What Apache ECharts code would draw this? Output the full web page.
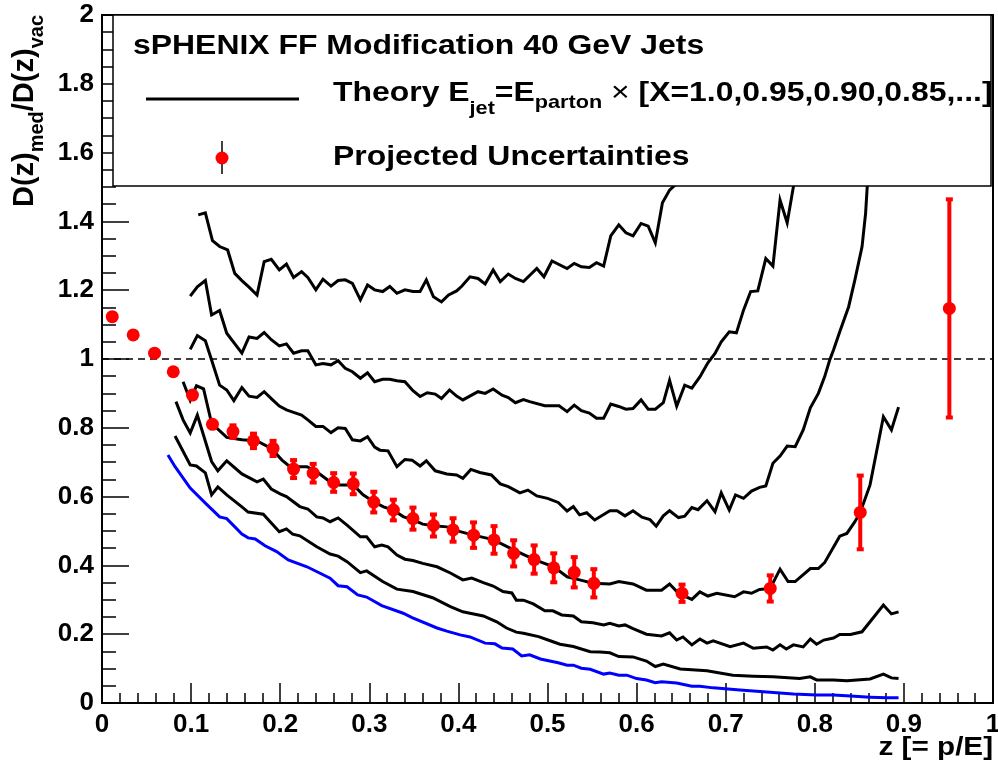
<!DOCTYPE html>
<html><head><meta charset="utf-8">
<script src="https://cdn.jsdelivr.net/npm/echarts@6/dist/echarts.min.js"></script>
<style>html,body{margin:0;padding:0;background:#fff}#c{width:998px;height:778px}</style>
</head><body><div id="c"></div>
<script>
// ---------------- data ----------------
const curveBlue = [[.074,.721],[.082,.687],[.099,.625],[.116,.581],[.132,.541],[.14,.536],[.157,.491],[.164,.48],[.172,.477],[.183,.457],[.196,.44],[.209,.416],[.23,.396],[.256,.363],[.265,.341],[.275,.338],[.287,.314],[.297,.308],[.314,.283],[.338,.261],[.348,.248],[.376,.218],[.387,.209],[.402,.198],[.413,.192],[.43,.174],[.441,.172],[.449,.16],[.461,.157],[.471,.137],[.48,.14],[.492,.128],[.512,.117],[.522,.11],[.529,.11],[.538,.101],[.548,.098],[.563,.084],[.57,.087],[.58,.081],[.589,.081],[.6,.071],[.611,.067],[.621,.059],[.628,.062],[.645,.058],[.662,.049],[.671,.049],[.686,.044],[.716,.038],[.746,.032],[.776,.026],[.802,.023],[.821,.023],[.84,.02],[.862,.017],[.881,.015],[.894,.015]];
const curve1 = [[.082,.776],[.099,.692],[.106,.689],[.116,.669],[.123,.605],[.13,.628],[.14,.605],[.157,.57],[.164,.555],[.181,.549],[.19,.523],[.199,.498],[.207,.506],[.214,.491],[.222,.486],[.241,.454],[.256,.433],[.265,.427],[.275,.411],[.29,.379],[.297,.384],[.315,.353],[.331,.331],[.349,.324],[.371,.306],[.391,.28],[.405,.265],[.413,.261],[.428,.253],[.443,.236],[.454,.218],[.465,.206],[.473,.203],[.49,.193],[.503,.181],[.514,.171],[.529,.164],[.548,.149],[.559,.148],[.57,.146],[.58,.135],[.596,.134],[.611,.122],[.621,.106],[.63,.113],[.649,.099],[.679,.094],[.708,.081],[.731,.078],[.753,.076],[.783,.071],[.795,.076],[.802,.067],[.821,.067],[.836,.065],[.862,.07],[.877,.084],[.886,.073],[.894,.071]];
const curve2 = [[.083,.876],[.091,.823],[.099,.785],[.107,.837],[.123,.702],[.13,.675],[.14,.704],[.157,.666],[.174,.643],[.181,.651],[.19,.622],[.2,.608],[.207,.6],[.222,.571],[.231,.564],[.241,.541],[.248,.538],[.256,.527],[.265,.538],[.275,.517],[.29,.483],[.297,.483],[.306,.454],[.314,.459],[.321,.454],[.331,.43],[.34,.418],[.349,.414],[.36,.406],[.376,.396],[.391,.378],[.405,.358],[.415,.363],[.428,.35],[.439,.34],[.45,.324],[.46,.32],[.465,.299],[.473,.299],[.484,.288],[.497,.268],[.506,.268],[.516,.256],[.529,.253],[.538,.236],[.551,.233],[.563,.227],[.57,.232],[.58,.224],[.587,.227],[.596,.216],[.611,.2],[.628,.195],[.637,.204],[.645,.183],[.652,.192],[.662,.169],[.671,.186],[.679,.174],[.686,.181],[.705,.164],[.72,.174],[.731,.159],[.746,.163],[.753,.154],[.761,.169],[.768,.157],[.776,.169],[.787,.163],[.795,.186],[.802,.171],[.81,.183],[.821,.189],[.828,.199],[.84,.199],[.853,.207],[.877,.285],[.886,.259],[.894,.265]];
const curve3 = [[.091,.934],[.099,.88],[.106,.922],[.114,.913],[.123,.813],[.14,.772],[.157,.765],[.174,.762],[.19,.74],[.202,.706],[.211,.687],[.23,.687],[.241,.672],[.256,.643],[.267,.634],[.282,.634],[.293,.605],[.305,.585],[.316,.57],[.327,.561],[.338,.542],[.349,.532],[.36,.52],[.372,.515],[.387,.512],[.402,.498],[.417,.488],[.439,.475],[.462,.445],[.486,.416],[.507,.396],[.522,.367],[.536,.358],[.551,.348],[.57,.346],[.58,.353],[.596,.346],[.611,.328],[.628,.328],[.637,.346],[.647,.319],[.662,.301],[.671,.323],[.68,.311],[.69,.319],[.71,.309],[.72,.323],[.729,.319],[.738,.33],[.75,.333],[.761,.389],[.77,.353],[.778,.353],[.795,.391],[.804,.391],[.811,.408],[.828,.485],[.836,.493],[.845,.527],[.851,.554],[.862,.634],[.877,.832],[.886,.794],[.894,.86]];
const curve4 = [[.099,1.028],[.107,1.068],[.116,1.053],[.123,.997],[.132,.924],[.14,.91],[.148,.879],[.157,.917],[.165,.892],[.174,.888],[.182,.905],[.19,.885],[.199,.863],[.207,.852],[.215,.845],[.224,.837],[.231,.823],[.24,.804],[.248,.804],[.257,.786],[.265,.8],[.273,.798],[.281,.765],[.29,.762],[.298,.774],[.306,.744],[.312,.735],[.321,.733],[.331,.687],[.34,.708],[.348,.706],[.357,.689],[.364,.704],[.374,.675],[.387,.666],[.398,.663],[.405,.653],[.414,.679],[.424,.67],[.437,.663],[.447,.637],[.456,.629],[.469,.611],[.478,.619],[.488,.602],[.5,.595],[.512,.583],[.522,.558],[.529,.571],[.536,.547],[.544,.553],[.553,.532],[.57,.559],[.578,.559],[.587,.544],[.596,.559],[.606,.54],[.615,.533],[.622,.514],[.63,.544],[.637,.559],[.647,.539],[.654,.543],[.662,.568],[.669,.562],[.679,.588],[.688,.556],[.695,.611],[.704,.561],[.711,.605],[.72,.595],[.729,.616],[.738,.627],[.745,.631],[.753,.697],[.761,.718],[.769,.747],[.778,.745],[.787,.794],[.795,.858],[.804,.9],[.811,.948],[.817,.999],[.821,1.026],[.828,1.079],[.838,1.152],[.845,1.23],[.853,1.326],[.857,1.423],[.86,1.55],[.864,1.7],[.867,1.85]];
const curve5 = [[.099,1.183],[.107,1.21],[.116,1.228],[.123,1.128],[.132,1.141],[.14,1.075],[.157,1.017],[.165,1.064],[.174,1.06],[.182,1.077],[.19,1.056],[.199,1.038],[.207,1.044],[.215,1.017],[.224,1.024],[.231,1.024],[.24,.983],[.248,.987],[.257,.983],[.265,.995],[.273,.973],[.281,.963],[.29,.944],[.298,.96],[.306,.934],[.315,.941],[.323,.941],[.331,.937],[.34,.934],[.349,.908],[.357,.891],[.365,.902],[.374,.898],[.381,.885],[.39,.91],[.398,.892],[.405,.881],[.422,.905],[.43,.9],[.439,.913],[.449,.895],[.456,.888],[.464,.873],[.473,.882],[.48,.876],[.497,.864],[.513,.864],[.522,.847],[.53,.866],[.538,.85],[.547,.843],[.555,.828],[.563,.828],[.571,.869],[.58,.862],[.588,.854],[.596,.856],[.605,.881],[.613,.854],[.621,.854],[.63,.873],[.637,.938],[.645,.863],[.654,.924],[.662,.915],[.671,.948],[.68,.989],[.688,1.016],[.695,1.05],[.704,1.079],[.712,1.076],[.72,1.142],[.728,1.196],[.736,1.198],[.745,1.292],[.753,1.27],[.761,1.462],[.769,1.396],[.776,1.501],[.781,1.65],[.786,1.85]];
const curve6 = [[.108,1.419],[.116,1.425],[.124,1.344],[.132,1.327],[.141,1.317],[.149,1.249],[.157,1.228],[.165,1.209],[.174,1.186],[.182,1.283],[.19,1.29],[.199,1.259],[.207,1.276],[.215,1.237],[.224,1.254],[.231,1.237],[.24,1.201],[.248,1.232],[.257,1.212],[.265,1.228],[.273,1.23],[.281,1.22],[.29,1.172],[.298,1.215],[.306,1.201],[.315,1.196],[.323,1.211],[.331,1.191],[.34,1.201],[.349,1.196],[.357,1.196],[.364,1.23],[.372,1.181],[.381,1.166],[.389,1.186],[.398,1.198],[.404,1.212],[.413,1.239],[.422,1.234],[.43,1.218],[.439,1.259],[.447,1.225],[.456,1.247],[.464,1.234],[.473,1.225],[.488,1.263],[.496,1.239],[.505,1.285],[.522,1.263],[.53,1.278],[.538,1.268],[.547,1.266],[.555,1.28],[.563,1.27],[.571,1.358],[.58,1.39],[.588,1.367],[.596,1.358],[.605,1.394],[.613,1.386],[.621,1.338],[.629,1.454],[.637,1.491],[.645,1.51],[.655,1.62],[.67,1.8]];

const pointZ   = [.0115,.035,.059,.08,.1015,.124,.147,.17,.192,.215,.237,.26,.282,.305,.327,.349,.372,.394,.417,.44,.462,.485,.507,.53,.552,.651,.75,.851,.951];
const pointV   = [1.123,1.07,1.017,.963,.895,.81,.789,.762,.74,.68,.668,.641,.637,.584,.561,.536,.516,.503,.488,.474,.435,.417,.393,.38,.348,.319,.333,.554,1.147];
const pointErr = [0,0,0,0,0,.012,.021,.024,.025,.029,.03,.03,.033,.033,.033,.035,.035,.037,.04,.043,.041,.044,.045,.047,.044,.028,.041,.11,.32];

const xTickStep = 0.1, yTickStep = 0.2;
const headerText = 'sPHENIX FF Modification 40 GeV Jets';
const theoryParts = [['Theory E','main'],['jet','sub1'],['=E','main'],['parton','sub2'],[' \u00d7 ','times'],['[X=1.0,0.95,0.90,0.85,...]','main']];
const pointsLabel = 'Projected Uncertainties';
const xTitle = 'z [= p/E]';
const yTitleParts = [['D(z)','main'],['med','sub'],['/D(z)','main'],['vac','sub']];

// ---------------- layout ----------------
const FONT = '"Liberation Sans", Arial, Helvetica, sans-serif';
const G = {left:102, top:15, width:891, height:688};
const SX = 1.14; // horizontal stretch of the original text
const mctx = document.createElement('canvas').getContext('2d');
function tw(t, size, weight){ mctx.font = (weight||'bold') + ' ' + size + 'px ' + FONT; return mctx.measureText(t).width; }
function txt(t, x, baseline, size, opts){
  opts = opts || {};
  return {type:'text', x:x, y:baseline - 0.3465*size, scaleX:opts.sx||1, scaleY:opts.sy||1, z:110,
    style:{text:t, x:0, y:0, fontSize:size, fontWeight:opts.weight||'bold', fontFamily:FONT, fill:opts.fill||'#000',
      align:opts.align||'left', verticalAlign:'middle'}};
}

const chart = echarts.init(document.getElementById('c'), null, {renderer:'canvas'});

const lineSeries = (data, color) => ({type:'line', data:data, showSymbol:false, symbol:'none', clip:true, z:3,
  lineStyle:{color:color, width:3, join:'miter'}, animation:false, silent:true});

const pts = pointZ.map((z,i)=>[z, pointV[i], pointErr[i]]);

const graphics = [];
// frame
graphics.push({type:'rect', z:50, shape:{x:G.left, y:G.top, width:G.width, height:G.height}, style:{fill:null, stroke:'#000', lineWidth:2}});
// legend box
const LB = {x:113, y:15, w:878, h:171};
graphics.push({type:'rect', z:100, shape:{x:LB.x, y:LB.y, width:LB.w, height:LB.h}, style:{fill:'#fff', stroke:'#000', lineWidth:1.5}});
graphics.push(txt(headerText, 133, 56, 28, {sx:SX}));
graphics.push({type:'line', z:110, shape:{x1:146, y1:99, x2:299, y2:99}, style:{stroke:'#000', lineWidth:3}});
// theory line with subscripts
(function(){
  let x = 333;
  const spec = {main:{s:28,b:103,w:'bold'}, sub1:{s:19,b:115,w:'bold'}, sub2:{s:19,b:109,w:'bold'}, times:{s:28,b:103,w:'normal'}};
  theoryParts.forEach(([t,k])=>{
    const sp = spec[k];
    graphics.push(txt(t, x, sp.b, sp.s, {sx:SX, weight:sp.w}));
    x += tw(t, sp.s, sp.w) * SX;
  });
})();
graphics.push({type:'line', z:110, shape:{x1:222, y1:141, x2:222, y2:174}, style:{stroke:'#000', lineWidth:1.5}});
graphics.push({type:'circle', z:111, shape:{cx:222, cy:158, r:6.5}, style:{fill:'#ff0000'}});
graphics.push(txt(pointsLabel, 333, 167, 28, {sx:SX}));
// x title
graphics.push(txt(xTitle, 993, 757, 26, {sx:SX, align:'right'}));
// y title (rotated)
(function(){
  const spec = {main:{s:29, off:0}, sub:{s:20, off:9}};
  let L = 0; const items = [];
  yTitleParts.forEach(([t,k])=>{ const sp=spec[k]; items.push({t, sp, lx:L}); L += tw(t, sp.s); });
  const children = items.map(it => txt(it.t, it.lx, it.sp.off, it.sp.s));
  graphics.push({type:'group', x:35, y:15 + L, rotation:Math.PI/2, z:110, children:children});
})();

const option = {
  animation:false,
  backgroundColor:'#fff',
  grid:{left:G.left, top:G.top, width:G.width, height:G.height, containLabel:false, outerBoundsMode:'none'},
  xAxis:{type:'value', min:0, max:1, interval:xTickStep,
    axisLine:{show:true, onZero:false, lineStyle:{color:'#000', width:2}},
    axisTick:{show:true, inside:true, length:20, lineStyle:{color:'#000', width:1.5}},
    minorTick:{show:true, splitNumber:5, length:10, lineStyle:{color:'#000', width:1.5}},
    splitLine:{show:false},
    axisLabel:{show:true, margin:9, fontSize:26, fontWeight:'bold', fontFamily:FONT, color:'#000', showMinLabel:true, showMaxLabel:true}},
  yAxis:{type:'value', min:0, max:2, interval:yTickStep,
    axisLine:{show:true, onZero:false, lineStyle:{color:'#000', width:2}},
    axisTick:{show:true, inside:true, length:27, lineStyle:{color:'#000', width:1.5}},
    minorTick:{show:true, splitNumber:4, length:14, lineStyle:{color:'#000', width:1.5}},
    splitLine:{show:false},
    axisLabel:{show:true, margin:8, fontSize:26, fontWeight:'bold', fontFamily:FONT, color:'#000', showMinLabel:true, showMaxLabel:true}},
  series:[
    Object.assign(lineSeries(curveBlue, '#0000ff'), {
      markLine:{silent:true, symbol:'none', label:{show:false}, animation:false,
        lineStyle:{color:'#000', width:1.5, type:[7,5]}, data:[{yAxis:1}]}}),
    lineSeries(curve1, '#000'),
    lineSeries(curve2, '#000'),
    lineSeries(curve3, '#000'),
    lineSeries(curve4, '#000'),
    lineSeries(curve5, '#000'),
    lineSeries(curve6, '#000'),
    {type:'custom', z:5, silent:true, animation:false, clip:false,
      data: pts.filter(p=>p[2]>0),
      renderItem:function(params, api){
        const c = api.coord([api.value(0), api.value(1)]);
        const lo = api.coord([api.value(0), api.value(1)-api.value(2)]);
        const hi = api.coord([api.value(0), api.value(1)+api.value(2)]);
        return {type:'group', children:[
          {type:'line', shape:{x1:c[0], y1:lo[1], x2:c[0], y2:hi[1]}, style:{stroke:'#ff0000', lineWidth:4}},
          {type:'rect', shape:{x:c[0]-3.5, y:hi[1]-1, width:7, height:4}, style:{fill:'#ff0000'}},
          {type:'rect', shape:{x:c[0]-3.5, y:lo[1]-3, width:7, height:4}, style:{fill:'#ff0000'}}
        ]};
      }},
    {type:'scatter', z:6, silent:true, animation:false, data:pts.map(p=>[p[0],p[1]]), symbol:'circle', symbolSize:13,
      itemStyle:{color:'#ff0000', opacity:1}}
  ],
  graphic:{elements:graphics}
};
chart.setOption(option);
</script></body></html>
